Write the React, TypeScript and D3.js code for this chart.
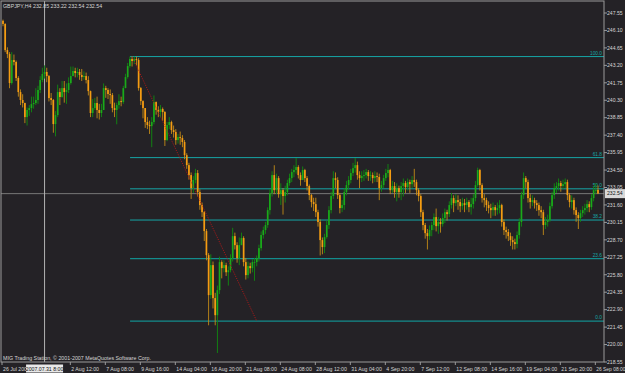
import React from "react";
import * as d3 from "d3";

const W = 625;
const H = 373;

const symbolHeader = "GBPJPY,H4  232.85 233.22 232.54 232.54";
const watermark = "MIG Trading Station, © 2001-2007 MetaQuotes Software Corp.";

const firstOpen = 246.9;
const closes = [
  246.64,244.47,244.14,241.73,243.64,243.48,242.15,240.98,240.32,240.07,238.90,239.49,239.65,239.98,240.07,240.32,241.15,241.98,242.48,242.65,
  242.31,240.48,240.32,238.32,239.07,240.98,240.57,241.31,240.98,241.15,241.73,242.31,242.73,242.56,242.65,242.40,242.23,242.31,241.98,241.06,
  239.24,239.65,240.07,239.49,239.24,239.49,241.31,241.15,240.82,240.73,239.65,239.49,239.90,240.23,240.15,241.31,242.23,243.14,243.73,243.56,
  243.73,243.64,241.31,240.23,239.65,238.49,238.24,238.15,238.49,240.15,239.49,239.32,239.57,239.32,236.99,238.24,238.49,237.82,237.66,236.99,
  237.24,237.16,236.83,235.74,234.91,234.08,233.00,233.67,234.25,232.67,231.59,231.00,229.43,227.43,224.11,226.60,223.86,222.44,224.52,226.85,
  226.35,226.60,226.01,226.18,227.18,229.01,228.26,227.18,228.26,228.85,226.85,225.77,226.52,226.35,226.85,226.85,227.18,228.01,229.10,229.51,
  229.93,231.17,232.59,234.08,232.83,233.83,232.50,232.83,232.34,232.67,233.42,233.83,234.33,234.50,234.75,234.08,233.67,234.50,233.83,233.17,
  232.42,231.84,231.67,231.00,230.18,228.68,228.10,228.93,229.93,231.17,232.34,233.83,233.67,232.42,231.34,231.59,232.67,233.25,233.67,234.25,
  234.66,234.91,234.08,233.83,234.00,234.08,234.33,234.00,234.08,233.83,234.00,233.92,233.00,233.25,233.83,234.25,234.50,232.83,233.17,232.67,
  233.00,232.67,233.17,233.42,233.08,233.50,233.33,233.67,233.50,232.83,232.34,231.00,229.93,229.26,229.01,229.51,229.93,230.59,229.84,230.18,
  230.01,230.51,231.00,230.84,231.59,232.17,231.75,232.00,231.84,231.50,231.75,231.59,231.84,231.42,231.67,232.17,233.25,234.50,233.25,232.17,
  232.00,231.59,231.34,231.17,231.42,231.17,231.34,231.59,230.18,229.51,229.35,229.01,228.68,228.51,228.35,229.10,230.18,232.42,233.83,233.50,
  232.17,231.84,232.00,231.75,231.59,231.17,231.00,229.93,230.18,230.34,231.50,232.42,233.00,233.17,233.42,233.17,233.33,233.50,232.42,231.84,
  232.00,231.17,230.76,230.51,230.92,231.17,231.34,231.67,231.42,232.17,232.83,232.85,232.54
];
const highs = [
  247.00,246.70,244.70,244.30,244.30,244.10,243.60,242.30,241.20,240.80,240.10,239.70,239.90,240.60,240.60,241.30,241.50,242.30,243.00,243.20,
  243.00,242.40,240.90,240.40,239.40,241.60,241.30,241.90,241.90,241.70,242.20,243.10,243.10,243.00,243.00,242.90,242.90,242.70,242.60,242.30,
  241.10,240.40,240.50,240.60,240.00,240.00,241.70,241.50,241.30,241.20,240.90,240.10,240.10,240.80,240.60,241.50,242.50,243.40,243.93,243.93,
  243.93,243.93,243.80,241.40,240.30,239.50,238.90,238.60,238.90,240.70,240.20,239.80,239.90,239.70,239.40,238.50,238.90,238.60,238.20,237.90,
  237.50,237.70,237.40,237.00,235.90,235.10,234.30,234.00,234.60,234.50,232.90,231.80,231.10,229.60,227.60,227.50,226.90,224.30,224.90,227.30,
  227.00,227.00,226.80,226.50,227.50,229.70,229.30,228.50,228.90,229.30,229.00,227.20,226.90,226.80,227.10,227.20,227.40,228.30,229.40,229.80,
  230.20,231.40,232.90,234.40,234.90,234.20,234.00,233.40,233.00,233.20,233.70,234.20,234.60,234.90,235.50,234.90,234.30,234.80,234.60,234.00,
  233.30,232.50,232.20,232.20,231.20,230.40,228.90,229.20,230.30,231.50,232.70,234.40,234.30,233.90,232.60,232.00,233.00,233.60,234.00,234.60,
  235.10,235.50,235.20,234.40,234.40,234.50,234.60,234.50,234.40,234.30,234.40,234.30,234.20,233.60,234.10,234.60,235.00,234.60,233.60,233.50,
  233.40,233.20,233.50,233.80,233.60,233.80,233.70,234.00,234.60,233.70,233.00,232.50,231.20,230.10,229.60,229.90,230.20,230.90,231.30,230.60,
  230.50,230.90,231.30,231.20,231.90,232.60,232.40,232.50,232.40,232.10,232.20,232.10,232.20,232.00,232.20,232.50,233.60,234.70,234.60,233.40,
  232.50,232.20,231.90,231.70,231.80,231.60,231.80,232.00,231.70,230.40,229.80,229.60,229.30,229.00,228.80,229.40,230.50,232.70,234.30,234.00,
  233.70,232.50,232.40,232.20,232.00,231.80,231.50,231.20,230.60,230.80,231.80,232.70,233.40,233.50,233.80,233.60,233.70,233.80,233.70,232.60,
  232.40,232.20,231.40,231.00,231.20,231.50,231.70,232.00,231.90,232.50,233.20,233.40,233.22
];
const lows = [
  246.45,244.30,243.80,241.30,241.60,243.20,241.90,240.60,239.90,239.70,238.40,238.20,239.00,239.30,239.60,239.90,240.00,240.90,241.80,242.10,
  241.80,240.20,239.90,237.60,237.30,238.90,239.90,240.50,240.10,240.00,240.90,241.60,242.30,242.20,242.20,242.00,241.90,242.00,241.70,240.70,
  238.90,238.90,239.50,238.80,238.70,238.90,239.60,240.50,240.40,240.00,239.30,238.90,238.30,239.60,239.80,240.00,241.30,242.10,243.00,243.10,
  243.30,243.20,241.10,239.90,238.80,238.00,237.90,237.50,236.40,238.30,239.10,238.90,238.90,238.60,236.50,236.90,237.90,237.50,237.20,236.60,
  236.70,236.60,236.40,235.40,234.60,233.70,232.10,232.60,233.40,232.30,231.20,230.60,228.60,227.00,221.60,223.80,223.00,221.60,219.30,224.20,
  225.50,226.00,225.70,224.90,226.00,226.90,227.90,226.80,226.60,228.30,226.50,225.40,225.50,225.90,226.00,225.30,226.50,226.90,227.80,228.80,
  229.20,229.70,230.80,232.30,232.50,232.50,232.20,231.60,230.80,231.80,232.40,233.20,233.50,233.90,234.20,233.80,233.20,233.80,233.50,232.80,
  232.00,231.40,231.10,230.60,229.80,227.40,227.50,227.60,228.80,229.60,230.90,232.10,233.00,232.10,230.90,231.00,231.20,232.40,232.90,233.40,
  234.00,234.30,233.70,233.00,233.50,233.60,233.80,233.60,233.60,233.40,233.50,233.50,232.00,232.70,233.00,233.60,233.90,232.50,232.60,232.20,
  231.90,232.20,232.00,232.30,232.60,232.80,232.60,233.00,233.10,232.40,231.90,230.60,229.50,228.80,227.90,228.70,229.00,229.50,229.40,229.20,
  229.30,229.80,230.10,230.30,230.60,231.30,231.00,231.50,231.20,231.00,231.20,231.00,231.20,231.00,230.80,231.30,231.90,233.10,232.80,231.80,
  231.40,231.10,230.90,230.50,230.70,230.70,230.80,230.90,229.80,229.10,228.80,228.60,228.20,227.90,227.90,228.00,228.80,229.80,232.10,233.00,
  231.80,231.30,231.50,231.30,231.10,230.70,230.50,229.10,229.60,229.80,230.20,231.30,232.10,232.60,232.80,232.70,232.90,233.00,232.00,231.40,
  231.30,230.80,230.20,229.60,230.20,230.60,230.80,231.00,231.00,231.20,231.90,232.50,232.54
];

const priceTicks = [
  "247.55","246.10","244.65","243.20","241.75","240.30","238.85","237.40","235.95","234.50","233.05",
  "231.60","230.15","228.70","227.25","225.80","224.35","222.90","221.45","220.00","218.55"
];

const timeLabels = [
  "26 Jul 2007","2 Aug 12:00","7 Aug 08:00","9 Aug 16:00","14 Aug 04:00","16 Aug 20:00","21 Aug 08:00",
  "24 Aug 08:00","28 Aug 12:00","31 Aug 04:00","4 Sep 20:00","7 Sep 12:00","12 Sep 08:00","14 Sep 16:00",
  "19 Sep 04:00","21 Sep 20:00","26 Sep 08:00"
];
const timeLabelBars = [0,31,47,63,79,95,111,127,143,159,175,191,207,223,239,255,271];

const fibLevels = ["100.0","61.8","50.0","38.2","23.6","0.0"];
const fibRatios = [1.0,0.618,0.5,0.382,0.236,0.0];
const fibHigh = 243.93;
const fibLow = 221.95;
const fibStartBar = 59;
const fibEndBar = 116;

const bidPrice = 232.54;
const vlineBar = 19;
const vlineLabel = "2007.07.31 8:00";

const BG = "#242226";
const FRAME = "#9a9a9a";
const TXT = "#d6d6d6";
const FIB = "#16a6a6";
const FONT = "'Liberation Sans', Arial, sans-serif";

export default function App() {
  const left = 1, right = 604, top = 1, bottom = 362;
  const x = d3.scaleLinear().domain([0, closes.length - 1]).range([3, 598]);
  const y = d3.scaleLinear().domain([218.55, 247.55]).range([362, 13]);

  const candles = closes.map((c, i) => {
    const o = i === 0 ? firstOpen : closes[i - 1];
    const hi = Math.max(highs[i], o, c);
    const lo = Math.min(lows[i], o, c);
    return { i, o, c, hi, lo, bull: c >= o };
  });

  const fibStartX = x(fibStartBar) - 2;
  const boxLeft = x(vlineBar) - 18.5;

  return (
    <svg width={W} height={H} style={{ position: "absolute", left: 0, top: 0, background: BG }}
      xmlns="http://www.w3.org/2000/svg">
      <rect x={0} y={0} width={W} height={H} fill={BG} />
      <defs>
        <clipPath id="plot">
          <rect x={left} y={top} width={right - left} height={bottom - top} />
        </clipPath>
        <clipPath id="firstLabel">
          <rect x={0} y={bottom} width={boxLeft} height={H - bottom} />
        </clipPath>
      </defs>

      <g clipPath="url(#plot)">
        <line x1={left} x2={right} y1={y(bidPrice)} y2={y(bidPrice)} stroke="#777777" strokeWidth={1} />

        {fibRatios.map((r, k) => {
          const p = fibLow + r * (fibHigh - fibLow);
          const yy = y(p);
          return (
            <g key={k}>
              <line x1={fibStartX} x2={right} y1={yy} y2={yy} stroke={r < 0.3 ? "#138c8c" : FIB}
                strokeWidth={r < 0.3 ? 1.4 : 1} />
              <text x={right - 2} y={yy - 1.6} fill={FIB} fontSize={4.8} fontFamily={FONT} textAnchor="end">
                {fibLevels[k]}
              </text>
            </g>
          );
        })}

        <line x1={x(vlineBar)} x2={x(vlineBar)} y1={top} y2={bottom} stroke="#b4b4b4" strokeWidth={1} />

        {candles.map((d) => {
          const cx = x(d.i);
          const yb = Math.min(y(d.o), y(d.c));
          const hb = Math.max(0.8, Math.abs(y(d.o) - y(d.c)));
          return (
            <g key={d.i}>
              <rect x={cx - 0.45} y={y(d.hi)} width={0.9} height={Math.max(0.8, y(d.lo) - y(d.hi))}
                fill={d.bull ? "#108a10" : "#c08a18"} />
              <rect x={cx - 0.85} y={yb} width={1.7} height={hb}
                fill={d.bull ? "#1aaa1a" : "#f59c12"} />
            </g>
          );
        })}

        <line x1={x(fibStartBar)} y1={y(fibHigh)} x2={x(fibEndBar)} y2={y(fibLow)}
          stroke="#b01818" strokeWidth={0.9} strokeDasharray="1.2,1.2" />
      </g>

      <rect x={left} y={top} width={right - left} height={bottom - top} fill="none" stroke={FRAME} strokeWidth={1} />

      <text x={3} y={8} fill={TXT} fontSize={5.3} fontFamily={FONT}>{symbolHeader}</text>
      <text x={3} y={360} fill={TXT} fontSize={5.3} fontFamily={FONT}>{watermark}</text>

      {priceTicks.map((t, k) => {
        const yy = y(+t);
        return (
          <g key={k}>
            <line x1={right} x2={right + 3} y1={yy} y2={yy} stroke={FRAME} strokeWidth={1} />
            <text x={607} y={yy} dy="0.35em" fill={TXT} fontSize={5.1} fontFamily={FONT}>{t}</text>
          </g>
        );
      })}
      <rect x={605} y={y(bidPrice) - 4.5} width={20} height={9} fill="#d8d8d8" />
      <text x={607} y={y(bidPrice)} dy="0.35em" fill="#111111" fontSize={5.1} fontFamily={FONT}>
        {bidPrice.toFixed(2)}
      </text>

      {timeLabels.map((t, k) => {
        const xx = timeLabelBars[k] === 0 ? 2 : x(timeLabelBars[k]) - 0.5;
        return (
          <g key={k} clipPath={k === 0 ? "url(#firstLabel)" : undefined}>
            <line x1={xx} x2={xx} y1={bottom} y2={bottom + 3} stroke={FRAME} strokeWidth={1} />
            <text x={xx + 1} y={371} fill={TXT} fontSize={k === timeLabels.length - 1 ? 4.9 : 5.2}
              fontFamily={FONT}>{t}</text>
          </g>
        );
      })}
      <rect x={boxLeft} y={364.5} width={37} height={8} fill="#e8e8e8" />
      <text x={x(vlineBar)} y={371} fill="#111111" fontSize={5.2} fontFamily={FONT} textAnchor="middle">
        {vlineLabel}
      </text>
    </svg>
  );
}
